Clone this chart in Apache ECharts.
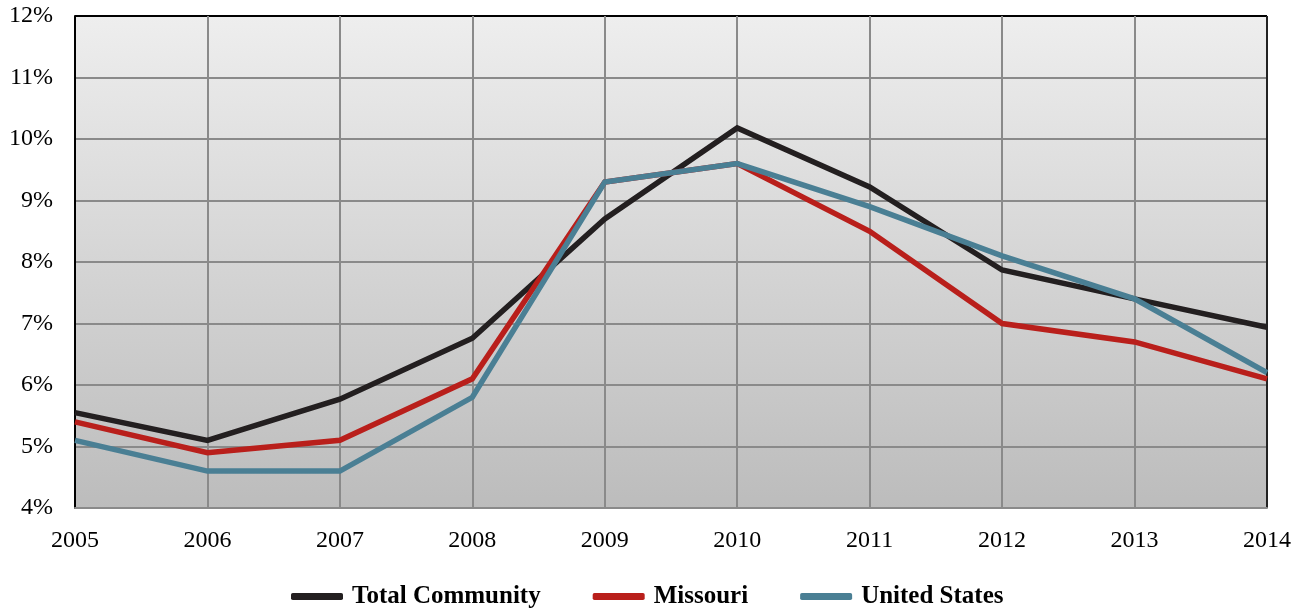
<!DOCTYPE html>
<html>
<head>
<meta charset="utf-8">
<script src="https://cdn.jsdelivr.net/npm/echarts@6/dist/echarts.min.js"></script>
<style>
html,body{margin:0;padding:0;background:#fff;}
#c{width:1304px;height:608px;}
</style>
</head>
<body>
<div id="c"></div>
<script>
var years = ['2005','2006','2007','2008','2009','2010','2011','2012','2013','2014'];
var totalCommunity = [5.55, 5.1, 5.77, 6.76, 8.7, 10.18, 9.22, 7.87, 7.4, 6.94];
var missouri = [5.4, 4.9, 5.1, 6.1, 9.3, 9.6, 8.5, 7.0, 6.7, 6.1];
var unitedStates = [5.1, 4.6, 4.6, 5.8, 9.3, 9.6, 8.9, 8.1, 7.4, 6.2];
var seriesNames = ['Total Community', 'Missouri', 'United States'];
var colors = ['#231f20', '#b91f1b', '#4a7f94'];

var chart = echarts.init(document.getElementById('c'));
var font = '"Liberation Serif", "Times New Roman", serif';
var G = '#8a8a8a';
function mk(name, data, color){
  return {
    name: name, type: 'line', data: data, symbol: 'none', smooth: false,
    lineStyle: {color: color, width: 5.5, cap: 'butt', join: 'miter'},
    itemStyle: {color: color}
  };
}
chart.setOption({
  animation: false,
  color: colors,
  grid: {
    left: 75, right: 37, top: 16, bottom: 100,
    show: true,
    borderColor: '#000', borderWidth: 1,
    backgroundColor: new echarts.graphic.LinearGradient(0, 0, 0, 1, [
      {offset: 0, color: '#eeeeee'},
      {offset: 1, color: '#bcbcbc'}
    ])
  },
  legend: {
    top: 579,
    left: 286,
    itemWidth: 52, itemHeight: 7,
    itemGap: 52,
    icon: 'roundRect',
    textStyle: {fontFamily: font, fontWeight: 'bold', fontSize: 25, color: '#000', padding: [0,0,0,4]},
    data: seriesNames
  },
  xAxis: {
    type: 'category',
    data: years,
    boundaryGap: false,
    axisLine: {lineStyle: {color: G, width: 2}},
    axisTick: {show: false},
    axisLabel: {fontFamily: font, fontSize: 24, color: '#000', margin: 21},
    splitLine: {show: true, lineStyle: {color: ['#000', G, G, G, G, G, G, G, G, '#222'], width: 2}}
  },
  yAxis: {
    type: 'value',
    min: 4, max: 12, interval: 1,
    axisLine: {show: true, lineStyle: {color: '#000', width: 2}},
    axisTick: {show: false},
    axisLabel: {fontFamily: font, fontSize: 24, color: '#000', margin: 22, padding: [6,0,0,0], formatter: '{value}%'},
    splitLine: {show: true, lineStyle: {color: [G, G, G, G, G, G, G, G, '#000'], width: 2}}
  },
  series: [
    mk(seriesNames[0], totalCommunity, colors[0]),
    mk(seriesNames[1], missouri, colors[1]),
    mk(seriesNames[2], unitedStates, colors[2])
  ]
});
</script>
</body>
</html>
